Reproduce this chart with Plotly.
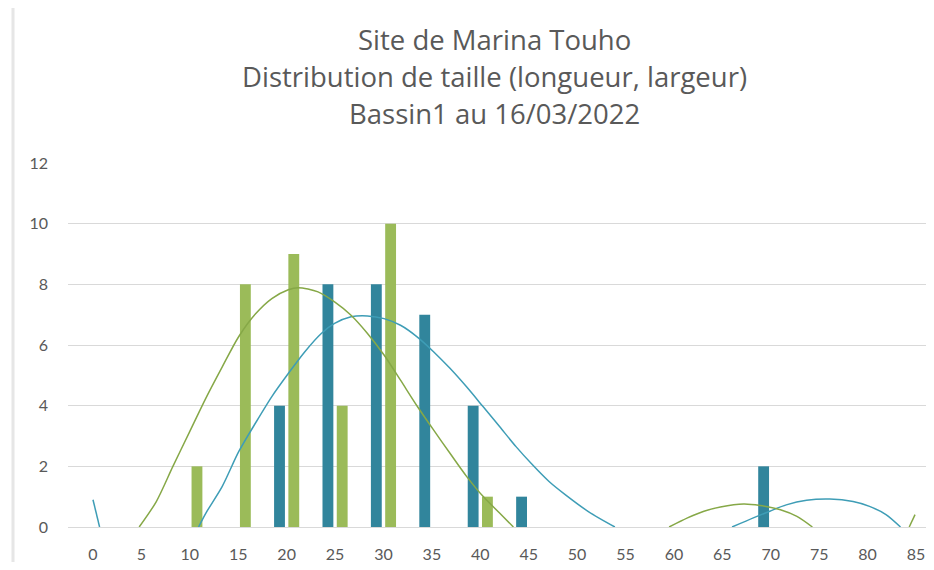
import plotly.graph_objects as go

# ---- data ----
categories = [0, 5, 10, 15, 20, 25, 30, 35, 40, 45, 50, 55, 60, 65, 70, 75, 80, 85]
longueur = [0, 0, 0, 0, 4, 8, 8, 7, 4, 1, 0, 0, 0, 0, 2, 0, 0, 0]
largeur = [0, 0, 2, 8, 9, 4, 10, 0, 1, 0, 0, 0, 0, 0, 0, 0, 0, 0]

# trendline points (segments above zero, separated by None)
trend_long_x = [0, 0.68, None,
                10.9, 11.66, 13.35, 15.06, 16.77, 18.47, 20.17, 21.88, 23.58, 24.95, 26.65,
                28.35, 30.06, 31.76, 33.47, 35.17, 36.87, 38.58, 40.28, 41.99, 43.69, 45.39,
                47.1, 48.8, 51.2, 53.9, None,
                66.0, 68.2, 69.9, 71.6, 73.7, 76.1, 78.5, 80.2, 81.9, 83.4]
trend_long_y = [0.9, 0, None,
                0, 0.46, 1.34, 2.49, 3.42, 4.30, 5.06, 5.78, 6.38, 6.71, 6.93,
                6.96, 6.87, 6.65, 6.27, 5.78, 5.23, 4.62, 3.97, 3.31, 2.65, 2.05,
                1.50, 1.06, 0.50, 0, None,
                0, 0.30, 0.52, 0.73, 0.88, 0.92, 0.84, 0.68, 0.41, 0]

trend_larg_x = [4.77, 6.54, 8.24, 9.95, 11.66, 13.35, 15.06, 16.77, 18.47, 20.17, 21.2,
                23.24, 24.95, 26.65, 28.35, 30.06, 31.76, 33.47, 35.17, 36.87, 38.58,
                40.28, 41.99, 43.42, None,
                59.5, 61.4, 63.1, 64.8, 67.2, 68.9, 71.0, 72.7, 74.3, None,
                84.3, 84.9]
trend_larg_y = [0, 0.84, 1.99, 3.12, 4.25, 5.28, 6.28, 7.02, 7.53, 7.82, 7.89,
                7.75, 7.42, 6.98, 6.38, 5.67, 4.84, 3.99, 3.2, 2.43, 1.67,
                1.01, 0.46, 0, None,
                0, 0.30, 0.52, 0.66, 0.76, 0.71, 0.57, 0.35, 0, None,
                0, 0.41]

title_lines = ["Site de Marina Touho",
               "Distribution de taille (longueur, largeur)",
               "Bassin1 au 16/03/2022"]

TEAL = "#31859C"
GREEN = "#9BBB59"
TXT = "#595959"
FONT = "'Open Sans', Lato, sans-serif"
TICKFONT = "Lato, 'Open Sans', sans-serif"

fig = go.Figure()
fig.add_trace(go.Bar(x=categories, y=longueur, name="Longueur",
                     marker=dict(color=TEAL, line=dict(width=0))))
fig.add_trace(go.Bar(x=categories, y=largeur, name="Largeur",
                     marker=dict(color=GREEN, line=dict(width=0))))
fig.add_trace(go.Scatter(x=trend_long_x, y=trend_long_y, mode="lines",
                         line=dict(color="#3E9DB6", width=1.5, shape="spline", smoothing=0.8),
                         connectgaps=False, showlegend=False, hoverinfo="skip"))
fig.add_trace(go.Scatter(x=trend_larg_x, y=trend_larg_y, mode="lines",
                         line=dict(color="#86A847", width=1.5, shape="spline", smoothing=0.8),
                         connectgaps=False, showlegend=False, hoverinfo="skip"))

# the page body has an 8px margin: figure origin sits at (8, 8) in the window
OFF = 8
W, H = 934 - 2 * OFF, 570 - 2 * OFF
ML, MR = 68 - OFF, 0
MT = 162.7 - OFF
MB = H - (527.3 - OFF)
plot_h = H - MT - MB
plot_w = W - ML - MR

def py(pix_y):
    return (H - MB - (pix_y - OFF)) / plot_h

def px(pix_x):
    return (pix_x - OFF - ML) / plot_w

# x scale: first category at window x=93, last at x=916 (so its label stays visible)
unit = (916 - 93) / 85.0
x_lo = -(93 - 68) / unit
x_hi = 85 + (OFF + W - 916) / unit

for txt, yy in zip(title_lines, [39, 76.5, 113.5]):
    fig.add_annotation(text=txt, x=px(494), y=py(yy), xref="paper", yref="paper",
                       xanchor="center", yanchor="middle", showarrow=False,
                       font=dict(family=FONT, size=27.5, color=TXT))

# outer chart border on the left
fig.add_shape(type="line", xref="paper", yref="paper",
              x0=px(13), x1=px(13), y0=py(7), y1=py(575),
              line=dict(color="#E6E6E6", width=3))

fig.update_layout(
    width=W, height=H,
    margin=dict(l=ML, r=MR, t=MT, b=MB, pad=0),
    paper_bgcolor="white", plot_bgcolor="white",
    barmode="group", bargap=0.41, bargroupgap=0.24,
    showlegend=False,
    font=dict(family=FONT, color=TXT),
)
fig.update_xaxes(range=[x_lo, x_hi], tickmode="array", tickvals=categories,
                 ticktext=[str(c) for c in categories], showgrid=False,
                 zeroline=False, showline=False, ticks="", ticklabeloverflow="allow",
                 ticklabelstandoff=16, tickfont=dict(family=TICKFONT, size=16, color=TXT))
fig.update_yaxes(range=[0, 12], dtick=2, showgrid=True, gridcolor="#D9D9D9",
                 gridwidth=1, zeroline=True, zerolinecolor="#D9D9D9", zerolinewidth=1,
                 showline=False, ticks="", ticklabelstandoff=19,
                 tickfont=dict(family=TICKFONT, size=16, color=TXT))

fig.write_html("out.html")
